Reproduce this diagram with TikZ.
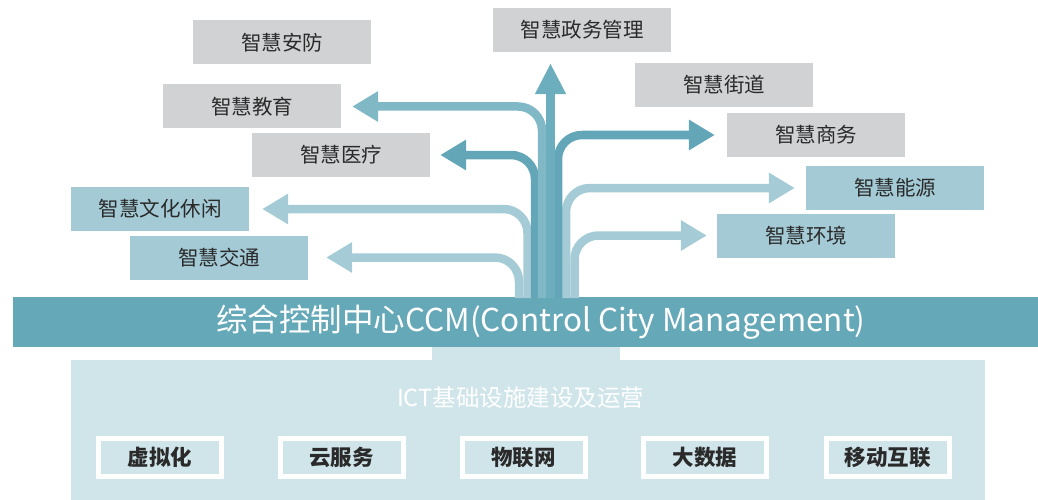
\documentclass[tikz,border=0pt]{standalone}
\usepackage{fontspec}
\setmainfont{Noto Sans CJK SC}
\usetikzlibrary{arrows.meta}
\definecolor{cgray}{HTML}{D1D2D4}
\definecolor{cblue}{HTML}{A3CAD5}
\definecolor{cdark}{HTML}{62A6B7}
\definecolor{cmid}{HTML}{80B8C6}
\definecolor{cup}{HTML}{6CAEBE}
\definecolor{clight}{HTML}{A5CCD6}
\definecolor{cbar}{HTML}{65A8B8}
\definecolor{cpanel}{HTML}{D0E5EA}
\definecolor{ctext}{HTML}{2A2A2A}
\tikzset{
  appbox/.style={minimum width=178pt, minimum height=44pt, inner sep=0pt,
    font=\fontsize{20.5}{24}\selectfont, text=ctext},
  graybox/.style={appbox, fill=cgray},
  bluebox/.style={appbox, fill=cblue},
  flow/.style={line width=8.5pt, rounded corners=24pt,
    -{Triangle[length=26pt,width=29pt]}},
  techbox/.style={draw=white, line width=5pt, fill=cpanel, minimum width=123pt,
    minimum height=38pt, inner sep=0pt, font=\bfseries\fontsize{21.5}{24}\selectfont, text=ctext}
}
\begin{document}
\begin{tikzpicture}[x=1pt,y=-1pt]
\useasboundingbox (0,0) rectangle (1038,500);
% lower panel
\fill[cpanel] (432,346) rectangle (620,361);
\node[fill=cpanel, minimum width=914pt, minimum height=140pt, inner sep=0pt] (panel) at (528,430) {};
\node[text=white, font=\fontsize{23.5}{26}\selectfont] (ict) at (520.5,398) {ICT基础设施建设及运营};
\node[techbox] (t1) at (160,457.5) {虚拟化};
\node[techbox] (t2) at (341.5,457.5) {云服务};
\node[techbox] (t3) at (523.5,457.5) {物联网};
\node[techbox] (t4) at (705,457.5) {大数据};
\node[techbox] (t5) at (887.5,457.5) {移动互联};
% bar
\node[fill=cbar, minimum width=1025pt, minimum height=50pt, inner sep=0pt] (bar) at (525.5,322) {};
\node[text=white, font=\fontsize{31.5}{34}\selectfont] (bartext) at (541,322) {综合控制中心CCM(Control City Management)};
% application boxes
\node[graybox] (af) at (282,42.5) {智慧安防};
\node[graybox] (jy) at (252,106.5) {智慧教育};
\node[graybox] (yl) at (341,155) {智慧医疗};
\node[bluebox] (wh) at (160,209) {智慧文化休闲};
\node[bluebox] (jt) at (219,257.5) {智慧交通};
\node[graybox] (zw) at (582,30) {智慧政务管理};
\node[graybox] (jd) at (724,85) {智慧街道};
\node[graybox] (sw) at (816,135) {智慧商务};
\node[bluebox] (ny) at (895,188) {智慧能源};
\node[bluebox] (hj) at (806,235.5) {智慧环境};
% shaft bases
\coordinate (s1) at (519,298);
\coordinate (s2) at (527.5,298);
\coordinate (s3) at (535,298);
\coordinate (s4) at (542,298);
\coordinate (s5) at (550.5,298);
\coordinate (s6) at (558,298);
\coordinate (s7) at (566,298);
\coordinate (s8) at (574.5,298);
% arrows
\draw[flow, clight, shorten >=18pt] (s1) |- (jt.east);
\draw[flow, clight, shorten >=13pt] (s2) |- (wh.east);
\draw[flow, clight, shorten >=10pt] (s8) |- (hj.west);
\draw[flow, clight, shorten >=11pt] (s7) |- (ny.west);
\draw[flow, cdark, shorten >=10pt] (s3) |- (yl.east);
\draw[flow, cdark, shorten >=12pt] (s6) |- (sw.west);
\draw[flow, cmid, shorten >=11pt] (s4) |- (jy.east);
\draw[line width=9pt, cup, -{Triangle[length=31pt,width=29pt]}, shorten >=11pt] (s5) -- (s5 |- zw.south);
\end{tikzpicture}
\end{document}
